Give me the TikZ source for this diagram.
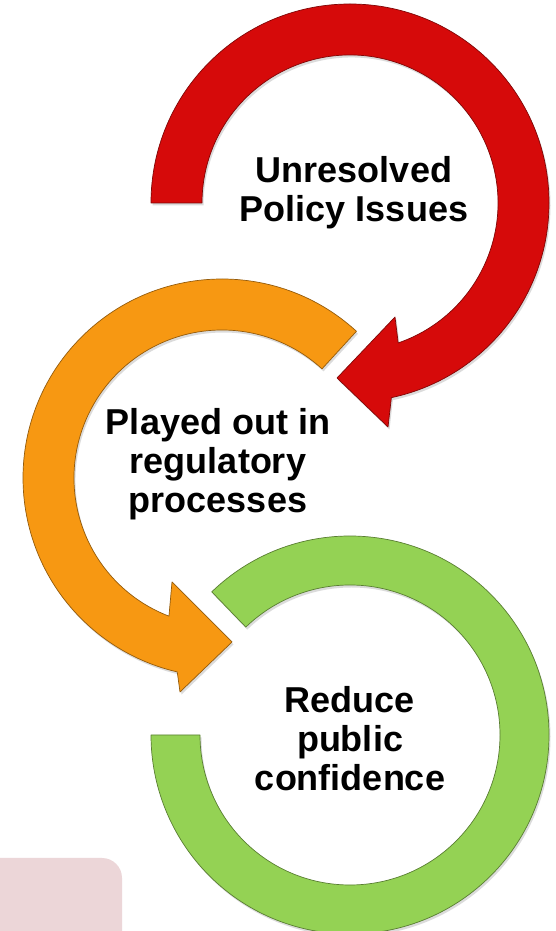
\documentclass[tikz,border=0pt]{standalone}
\usepackage{fontspec}
\setmainfont{Liberation Sans}
\usetikzlibrary{shadows,calc}
\definecolor{redc}{RGB}{214,10,10}
\definecolor{orangec}{RGB}{247,152,18}
\definecolor{greenc}{RGB}{148,210,84}
\definecolor{pinkc}{RGB}{236,214,216}
\tikzset{
  ringshape/.style={fill=#1, draw=#1!60!black, line width=0.7pt, line join=round,
    drop shadow={opacity=0.28, shadow xshift=1.5pt, shadow yshift=-2.5pt}},
  lbl/.style={font=\fontsize{36}{39}\selectfont\bfseries, align=center, inner sep=0pt, text=black}
}
\begin{document}
\begin{tikzpicture}[x=1pt,y=1pt]
\useasboundingbox (0,0) rectangle (556,931);
\fill[white] (0,0) rectangle (556,931);
% pink box at bottom left
\fill[pinkc, rounded corners=20pt] (-40,-40) rectangle (122,73);
% centres
\coordinate (rc) at (350,728);
\coordinate (oc) at (222,453);
\coordinate (gc) at (350,196);
% green ring
\path[ringshape=greenc] ($(gc)+(134:199)$) arc[start angle=134, end angle=-180, radius=199]
  -- ($(gc)+(180:150)$) arc[start angle=-180, end angle=134, radius=150] -- cycle;
% orange arrow
\path[ringshape=orangec] ($(oc)+(47.5:199)$) arc[start angle=47.5, end angle=257, radius=199]
  -- (180,239) -- (232,289) -- (172,349)
  -- ($(oc)+(249:148)$) arc[start angle=249, end angle=47.5, radius=148] -- cycle;
% red arrow
\path[ringshape=redc] ($(rc)+(180:148)$) -- ($(rc)+(180:199)$) arc[start angle=180, end angle=-78, radius=199]
  -- (388,504) -- (337,553) -- (395,614)
  -- ($(rc)+(-71:148)$) arc[start angle=-71, end angle=180, radius=148] -- cycle;
% labels
\node[lbl] (t1) at (354,738) {Unresolved\\Policy Issues};
\node[lbl] (t2) at (218,467) {Played out in\\regulatory\\processes};
\node[lbl] (t3) at (350,192) {Reduce\\public\\confidence};
\end{tikzpicture}
\end{document}
